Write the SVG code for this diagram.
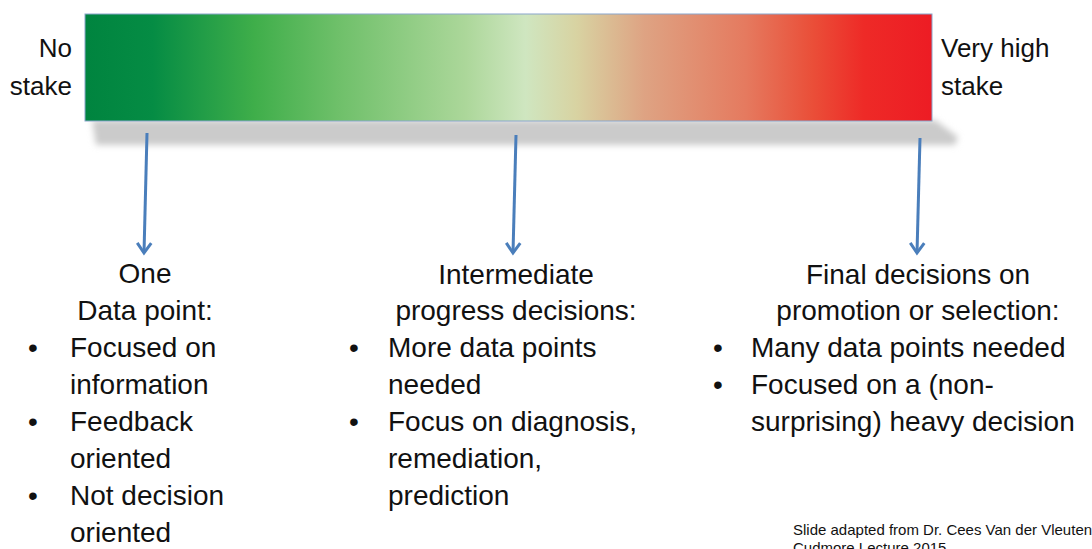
<svg xmlns="http://www.w3.org/2000/svg" width="1092" height="549" viewBox="0 0 1092 549">
<style>
text{font-family:"Liberation Sans",Arial,sans-serif;fill:#111}
.side{font-size:26px}
.body{font-size:28px}
.mid{text-anchor:middle}
.arr{stroke:#4a7ebb;stroke-width:3;fill:none}
.note{font-size:15px}
</style>
<defs>
<linearGradient id="g" x1="0" x2="1" y1="0" y2="0">
<stop offset="0" stop-color="#00843f"/>
<stop offset="0.08" stop-color="#058c44"/>
<stop offset="0.2" stop-color="#3fae4a"/>
<stop offset="0.3" stop-color="#6fc06a"/>
<stop offset="0.45" stop-color="#acd79a"/>
<stop offset="0.52" stop-color="#cfe6c0"/>
<stop offset="0.58" stop-color="#d8d3a2"/>
<stop offset="0.66" stop-color="#dea383"/>
<stop offset="0.78" stop-color="#e57a5f"/>
<stop offset="0.86" stop-color="#ea4e38"/>
<stop offset="0.92" stop-color="#ee2a27"/>
<stop offset="1" stop-color="#ed1c24"/>
</linearGradient>
<filter id="blur" x="-5%" y="-50%" width="110%" height="200%"><feGaussianBlur stdDeviation="3"/></filter>
<marker id="ah" markerWidth="20" markerHeight="20" refX="12" refY="10" orient="auto" markerUnits="userSpaceOnUse" viewBox="0 0 20 20">
<path d="M2,3 L12,10 L2,17" fill="none" stroke="#4a7ebb" stroke-width="3"/>
</marker>
</defs>
<rect width="1092" height="549" fill="#fff"/>
<g id="scale-bar">
<polygon points="92,120 935,120 958,137 955,145 96,145" fill="#cbcbcb" filter="url(#blur)"/>
<rect x="85" y="14" width="847" height="107" fill="url(#g)" stroke="#8aa6cc" stroke-width="1"/>
</g>
<g id="label-no-stake">
<text class="side" x="72" y="57" text-anchor="end">No</text>
<text class="side" x="72" y="95" text-anchor="end">stake</text>
</g>
<g id="label-high-stake">
<text class="side" x="941" y="57">Very high</text>
<text class="side" x="941" y="95">stake</text>
</g>
<g id="connectors">
<path class="arr" d="M147,133 L144,253" marker-end="url(#ah)"/>
<path class="arr" d="M516,135 L513,253" marker-end="url(#ah)"/>
<path class="arr" d="M920,138 L917,253" marker-end="url(#ah)"/>
</g>
<g id="node-low">
<text class="body mid" x="145" y="283">One</text>
<text class="body mid" x="145" y="320">Data point:</text>
<text class="body" x="28" y="357">•</text>
<text class="body" x="70" y="357">Focused on</text>
<text class="body" x="70" y="394">information</text>
<text class="body" x="28" y="431">•</text>
<text class="body" x="70" y="431">Feedback</text>
<text class="body" x="70" y="468">oriented</text>
<text class="body" x="28" y="505">•</text>
<text class="body" x="70" y="505">Not decision</text>
<text class="body" x="70" y="542">oriented</text>
</g>
<g id="node-mid">
<text class="body mid" x="516" y="284">Intermediate</text>
<text class="body mid" x="516" y="320">progress decisions:</text>
<text class="body" x="349" y="357">•</text>
<text class="body" x="388" y="357">More data points</text>
<text class="body" x="388" y="394">needed</text>
<text class="body" x="349" y="431">•</text>
<text class="body" x="388" y="431">Focus on diagnosis,</text>
<text class="body" x="388" y="468">remediation,</text>
<text class="body" x="388" y="505">prediction</text>
</g>
<g id="node-high">
<text class="body mid" x="918" y="284">Final decisions on</text>
<text class="body mid" x="918" y="320">promotion or selection:</text>
<text class="body" x="713" y="357">•</text>
<text class="body" x="751" y="357">Many data points needed</text>
<text class="body" x="713" y="394">•</text>
<text class="body" x="751" y="394">Focused on a (non-</text>
<text class="body" x="751" y="431">surprising) heavy decision</text>
</g>
<g id="credit">
<text class="note" x="793" y="535">Slide adapted from Dr. Cees Van der Vleuten</text>
<text class="note" x="793" y="553">Cudmore Lecture 2015</text>
</g>
</svg>
